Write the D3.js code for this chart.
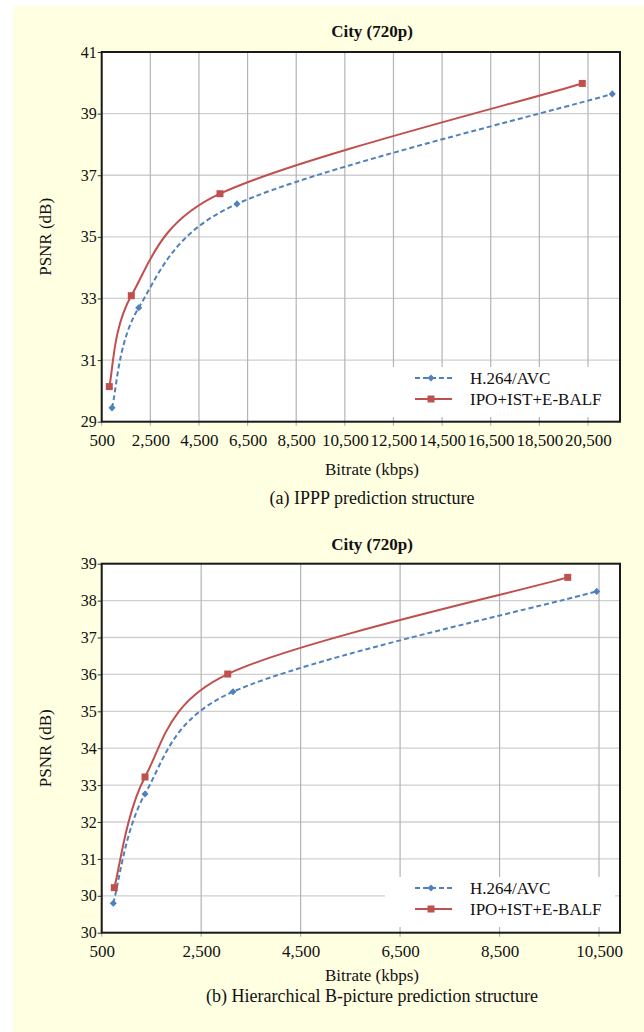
<!DOCTYPE html>
<html>
<head>
<meta charset="utf-8">
<script src="https://cdn.jsdelivr.net/npm/d3@7"></script>
<style>
  body { margin: 0; background: #fff; }
  svg text { font-family: "Liberation Serif", "Times New Roman", serif; fill: #111; }
</style>
</head>
<body>
<div id="page"></div>
<script>
// (a) IPPP
var bitrateAvcA = [924, 2022, 6064, 21500];
var psnrAvcA = [29.45, 32.70, 36.07, 39.64];
var bitrateOursA = [813, 1717, 5365, 20266];
var psnrOursA = [30.14, 33.09, 36.40, 39.98];
var xTicksA = [500, 2500, 4500, 6500, 8500, 10500, 12500, 14500, 16500, 18500, 20500];
var yTicksA = [29, 31, 33, 35, 37, 39, 41];
var yTickLabelsA = ["29", "31", "33", "35", "37", "39", "41"];

// (b) Hierarchical B
var bitrateAvcB = [733, 1371, 3140, 10454];
var psnrAvcB = [29.80, 32.76, 35.53, 38.25];
var bitrateOursB = [753, 1371, 3034, 9871];
var psnrOursB = [30.22, 33.22, 36.01, 38.63];
var xTicksB = [500, 2500, 4500, 6500, 8500, 10500];
var yTicksB = [29, 30, 31, 32, 33, 34, 35, 36, 37, 38, 39];
var yTickLabelsB = ["30", "30", "31", "32", "33", "34", "35", "36", "37", "38", "39"];

var seriesNames = ["H.264/AVC", "IPO+IST+E-BALF"];
var blue = '#4f81bd', red = '#c0504d';

var W = 644, H = 1032;
var svg = d3.select('#page').append('svg')
  .attr('width', W).attr('height', H);

svg.append('rect')
  .attr('x', 13).attr('y', 6)
  .attr('width', W - 13).attr('height', H - 6)
  .attr('fill', '#ffffe1');

function zip(xs, ys) {
  return xs.map(function(d, i) { return { x: d, y: ys[i] }; });
}

// spreadsheet-style smoothing: bezier arms = (next - prev) / 6,
// capped at half of the adjacent segment so short steps don't loop
function smoothPath(pts) {
  var p = d3.path();
  var n = pts.length;
  function arm(i, dir) {
    var a = pts[Math.max(i - 1, 0)], b = pts[Math.min(i + 1, n - 1)];
    var tx = (b[0] - a[0]) / 6, ty = (b[1] - a[1]) / 6;
    var nb = pts[i + dir];
    var seg = Math.hypot(nb[0] - pts[i][0], nb[1] - pts[i][1]) / 2;
    var len = Math.hypot(tx, ty);
    var k = len > seg ? seg / len : 1;
    return [tx * k, ty * k];
  }
  p.moveTo(pts[0][0], pts[0][1]);
  for (var i = 0; i < n - 1; i++) {
    var a1 = arm(i, 1), a2 = arm(i + 1, -1);
    p.bezierCurveTo(
      pts[i][0] + a1[0], pts[i][1] + a1[1],
      pts[i + 1][0] - a2[0], pts[i + 1][1] - a2[1],
      pts[i + 1][0], pts[i + 1][1]);
  }
  return p.toString();
}

function drawChart(cfg) {
  var left = 101.7, top = cfg.top;
  var width = 518.3, height = cfg.height;

  var g = svg.append('g')
    .attr('transform', 'translate(' + left + ',' + top + ')');

  var x = d3.scaleLinear().domain(cfg.xDomain).range([0, width]);
  var y = d3.scaleLinear().domain(cfg.yDomain).range([height, 0]);

  g.append('rect')
    .attr('width', width).attr('height', height)
    .attr('fill', '#fff');

  // grid
  g.selectAll('.hgrid')
    .data(cfg.yTicks)
    .enter().append('line')
    .attr('x1', 0).attr('x2', width)
    .attr('y1', function(d) { return y(d); })
    .attr('y2', function(d) { return y(d); })
    .attr('stroke', '#cfcfcf').attr('stroke-width', 1.3);

  g.selectAll('.vgrid')
    .data(cfg.xTicks)
    .enter().append('line')
    .attr('x1', function(d) { return x(d); })
    .attr('x2', function(d) { return x(d); })
    .attr('y1', 0).attr('y2', height + 4)
    .attr('stroke', '#b4b4b4').attr('stroke-width', 1.2);

  // y axis ticks + labels
  var yAxis = d3.axisLeft(y)
    .tickValues(cfg.yTicks)
    .tickSize(4)
    .tickPadding(1)
    .tickFormat(function(d, i) { return cfg.yTickLabels[i]; });
  var ya = g.append('g').call(yAxis);
  ya.select('.domain').remove();
  ya.selectAll('line').attr('stroke', '#333');
  ya.selectAll('text')
    .attr('font-size', 16)
    .attr('font-family', '"Liberation Serif", serif')
    .attr('fill', '#111');

  // x axis labels
  var xAxis = d3.axisBottom(x)
    .tickValues(cfg.xTicks)
    .tickSize(0)
    .tickPadding(12)
    .tickFormat(d3.format(','));
  var xa = g.append('g')
    .attr('transform', 'translate(0,' + height + ')')
    .call(xAxis);
  xa.select('.domain').remove();
  xa.selectAll('text')
    .attr('font-size', 17)
    .attr('font-family', '"Liberation Serif", serif')
    .attr('fill', '#111');

  // legend box (white, hides grid)
  var lg = g.append('g').attr('transform', 'translate(' + (385 - left) + ',' + (cfg.legendY - top) + ')');
  lg.append('rect')
    .attr('x', 0).attr('y', 0)
    .attr('width', 230).attr('height', 50)
    .attr('fill', '#fff');

  // series
  var avc = zip(cfg.avcX, cfg.avcY);
  var ours = zip(cfg.oursX, cfg.oursY);
  function toPx(d) { return [x(d.x), y(d.y)]; }

  g.append('path')
    .attr('d', smoothPath(avc.map(toPx)))
    .attr('fill', 'none')
    .attr('stroke', blue).attr('stroke-width', 2)
    .attr('stroke-dasharray', '5,3');

  g.append('path')
    .attr('d', smoothPath(ours.map(toPx)))
    .attr('fill', 'none')
    .attr('stroke', red).attr('stroke-width', 2);

  var diamond = d3.symbol().type(d3.symbolDiamond2 || d3.symbolDiamond).size(32);

  g.selectAll('.avc-pt')
    .data(avc)
    .enter().append('path')
    .attr('transform', function(d) { return 'translate(' + x(d.x) + ',' + y(d.y) + ')'; })
    .attr('d', diamond)
    .attr('fill', blue);

  g.selectAll('.ours-pt')
    .data(ours)
    .enter().append('rect')
    .attr('x', function(d) { return x(d.x) - 3.5; })
    .attr('y', function(d) { return y(d.y) - 3.5; })
    .attr('width', 7).attr('height', 7)
    .attr('fill', red);

  // legend entries
  var entries = [
    { name: seriesNames[0], color: blue, dash: '5,3', marker: 'diamond' },
    { name: seriesNames[1], color: red, dash: null, marker: 'square' }
  ];
  entries.forEach(function(e, i) {
    var ey = 11 + i * 21;
    lg.append('line')
      .attr('x1', 30).attr('x2', 67)
      .attr('y1', ey).attr('y2', ey)
      .attr('stroke', e.color).attr('stroke-width', 2)
      .attr('stroke-dasharray', e.dash);
    if (e.marker == 'diamond') {
      lg.append('path')
        .attr('transform', 'translate(46,' + ey + ')')
        .attr('d', diamond)
        .attr('fill', e.color);
    } else {
      lg.append('rect')
        .attr('x', 42.5).attr('y', ey - 3.5)
        .attr('width', 7).attr('height', 7)
        .attr('fill', e.color);
    }
    lg.append('text')
      .attr('x', 85).attr('y', ey + 5.5)
      .attr('font-size', 17)
      .text(e.name);
  });

  // frame
  g.append('rect')
    .attr('width', width).attr('height', height)
    .attr('fill', 'none')
    .attr('stroke', '#1a1a1a').attr('stroke-width', 2);

  // titles
  svg.append('text')
    .attr('x', 372).attr('y', cfg.titleY)
    .attr('text-anchor', 'middle')
    .attr('font-size', 17).attr('font-weight', 'bold')
    .text('City (720p)');

  svg.append('text')
    .attr('transform', 'translate(51,' + (top + height / 2) + ') rotate(-90)')
    .attr('text-anchor', 'middle')
    .attr('font-size', 17)
    .text('PSNR (dB)');

  svg.append('text')
    .attr('x', 372).attr('y', cfg.xLabelY)
    .attr('text-anchor', 'middle')
    .attr('font-size', 17)
    .text('Bitrate (kbps)');

  svg.append('text')
    .attr('x', 372).attr('y', cfg.captionY)
    .attr('text-anchor', 'middle')
    .attr('font-size', 18)
    .text(cfg.caption);
}

drawChart({
  top: 52, height: 369.7,
  xDomain: [500, 21817], yDomain: [29, 41],
  xTicks: xTicksA, yTicks: yTicksA, yTickLabels: yTickLabelsA,
  avcX: bitrateAvcA, avcY: psnrAvcA, oursX: bitrateOursA, oursY: psnrOursA,
  legendY: 367,
  titleY: 37, xLabelY: 475, captionY: 504,
  caption: '(a) IPPP prediction structure'
});

drawChart({
  top: 563.7, height: 369,
  xDomain: [500, 10922], yDomain: [29, 39],
  xTicks: xTicksB, yTicks: yTicksB, yTickLabels: yTickLabelsB,
  avcX: bitrateAvcB, avcY: psnrAvcB, oursX: bitrateOursB, oursY: psnrOursB,
  legendY: 877,
  titleY: 550, xLabelY: 981, captionY: 1002,
  caption: '(b) Hierarchical B-picture prediction structure'
});
</script>
</body>
</html>
